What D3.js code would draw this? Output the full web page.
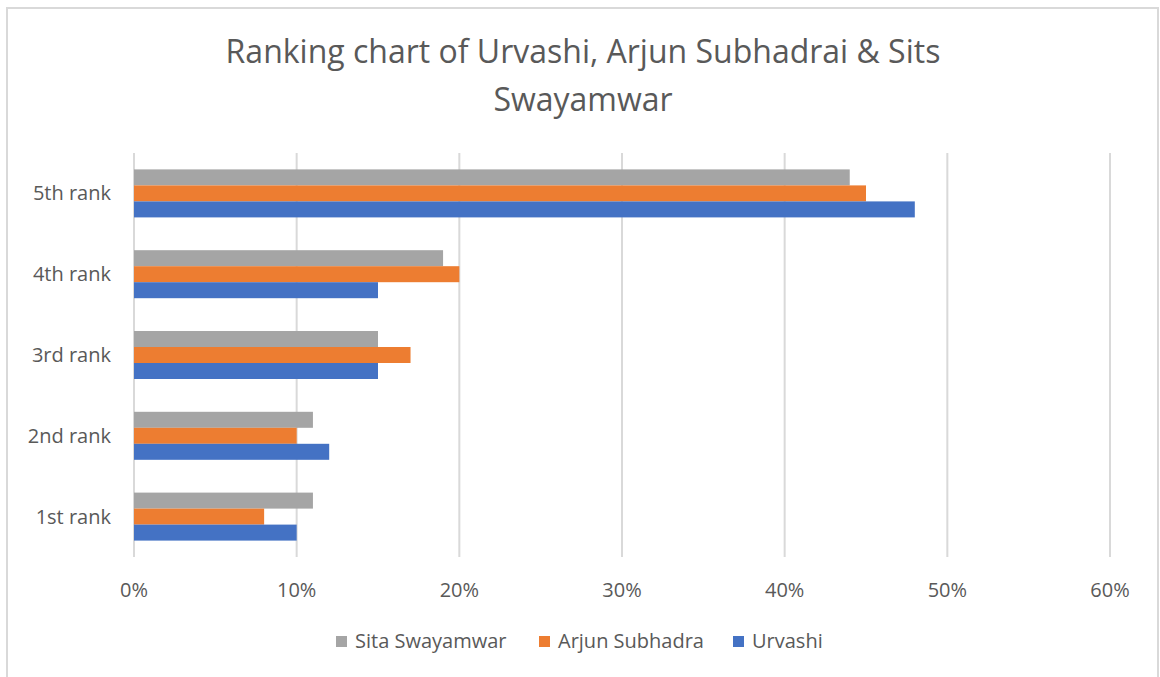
<!DOCTYPE html>
<html>
<head>
<meta charset="utf-8">
<script src="https://cdn.jsdelivr.net/npm/d3@7"></script>
<style>
  body { margin: 0; background: #fff; }
  text { font-family: "Open Sans", sans-serif; fill: #595959; }
</style>
</head>
<body>
<div id="chart-area"></div>
<script>
// ranks, bottom to top as in the chart
var categories = ["1st rank", "2nd rank", "3rd rank", "4th rank", "5th rank"];
var seriesNames = ["Sita Swayamwar", "Arjun Subhadra", "Urvashi"];
var seriesColors = ["#A5A5A5", "#ED7D31", "#4472C4"];

var sita = [0.11, 0.11, 0.15, 0.19, 0.44];
var arjun = [0.08, 0.10, 0.17, 0.20, 0.45];
var urvashi = [0.10, 0.12, 0.15, 0.15, 0.48];
var ticks = [0, 0.1, 0.2, 0.3, 0.4, 0.5, 0.6];

var seriesValues = [sita, arjun, urvashi];

var width = 1160, height = 677;
var margin = {left: 134, right: 50, top: 153, bottom: 120};

var svg = d3.select("#chart-area").append("svg")
    .attr("width", width)
    .attr("height", height);

// chart frame
svg.append("rect")
    .attr("x", 7).attr("y", 8)
    .attr("width", 1151).attr("height", 700)
    .attr("fill", "none")
    .attr("stroke", "#d9d9d9")
    .attr("stroke-width", 2);

// title
var title = svg.append("text")
    .attr("text-anchor", "middle")
    .style("font-size", "32px");
title.append("tspan").attr("x", 583).attr("y", 63)
    .text("Ranking chart of Urvashi, Arjun Subhadrai & Sits");
title.append("tspan").attr("x", 583).attr("y", 111)
    .text("Swayamwar");

var x = d3.scaleLinear()
    .domain([0, 0.6])
    .range([margin.left, 1110]);

var y = d3.scaleBand()
    .domain(categories.slice().reverse())
    .range([margin.top, 557]);

var inner = d3.scaleBand()
    .domain(seriesNames)
    .range([0, 48]);

// gridlines
svg.selectAll("line.grid")
    .data(ticks)
    .enter()
    .append("line")
    .attr("class", "grid")
    .attr("x1", function(d){ return x(d); })
    .attr("x2", function(d){ return x(d); })
    .attr("y1", margin.top)
    .attr("y2", 557)
    .attr("stroke", "#d9d9d9")
    .attr("stroke-width", 2);

// bars
seriesNames.forEach(function(name, si){
    svg.selectAll("rect.s" + si)
        .data(seriesValues[si])
        .enter()
        .append("rect")
        .attr("class", "s" + si)
        .attr("x", x(0))
        .attr("y", function(d, i){
            return y(categories[i]) + (y.bandwidth() - 48) / 2 + inner(name);
        })
        .attr("width", function(d){ return x(d) - x(0); })
        .attr("height", inner.bandwidth())
        .attr("fill", seriesColors[si]);
});

// x axis labels
svg.selectAll("text.xtick")
    .data(ticks)
    .enter()
    .append("text")
    .attr("class", "xtick")
    .attr("x", function(d){ return x(d); })
    .attr("y", 597)
    .attr("text-anchor", "middle")
    .style("font-size", "20px")
    .text(d3.format(".0%"));

// category labels
svg.selectAll("text.ytick")
    .data(categories)
    .enter()
    .append("text")
    .attr("class", "ytick")
    .attr("x", 111)
    .attr("y", function(d){ return y(d) + y.bandwidth() / 2 + 7; })
    .attr("text-anchor", "end")
    .style("font-size", "20px")
    .text(function(d){ return d; });

// legend
var legendX = [336, 539, 733];
var legend = svg.selectAll("g.legend")
    .data(seriesNames)
    .enter()
    .append("g")
    .attr("class", "legend")
    .attr("transform", function(d, i){ return "translate(" + legendX[i] + ",636)"; });

legend.append("rect")
    .attr("width", 11).attr("height", 11)
    .attr("fill", function(d, i){ return seriesColors[i]; });

legend.append("text")
    .attr("x", 19)
    .attr("y", 12)
    .style("font-size", "20px")
    .text(function(d){ return d; });
</script>
</body>
</html>
